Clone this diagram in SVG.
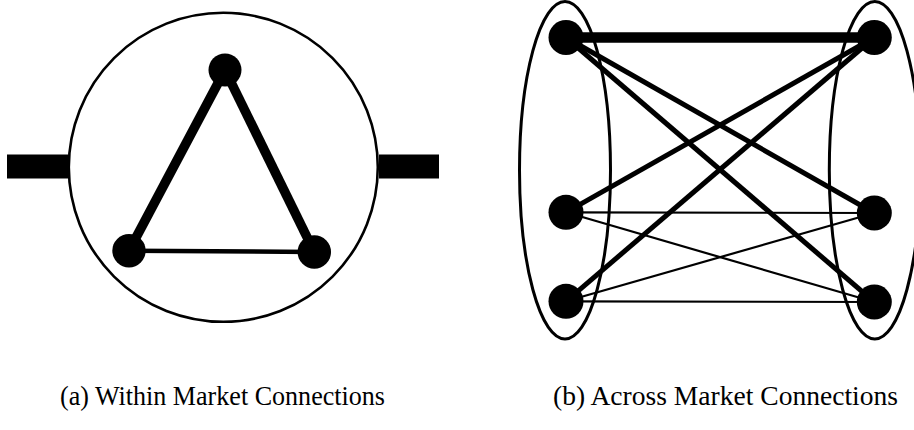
<svg xmlns="http://www.w3.org/2000/svg" width="914" height="430" viewBox="0 0 914 430">
<style>
.bg{fill:#fff}
.outline{fill:none;stroke:#000;stroke-width:2.6}
.node{fill:#000}
.thick{stroke:#000;stroke-width:9.5;stroke-linecap:butt}
.mid{stroke:#000;stroke-width:5;stroke-linecap:butt}
.thin{stroke:#000;stroke-width:2.2;stroke-linecap:butt}
.bar{fill:#000}
.cap{font-family:"Liberation Serif","DejaVu Serif",serif;font-size:26.5px;fill:#000}
</style>
<rect class="bg" x="0" y="0" width="914" height="430"/>
<g id="panel-a">
  <g id="market-a"><circle class="outline" cx="223.3" cy="167.3" r="154.5"/></g>
  <g id="bar-left"><rect class="bar" x="7" y="154.5" width="61" height="24"/></g>
  <g id="bar-right"><rect class="bar" x="379" y="154.5" width="60" height="24"/></g>
  <g id="connectors-a">
    <line class="thick" x1="225" y1="70" x2="129" y2="250.7"/>
    <line class="thick" x1="225" y1="70" x2="314.3" y2="252"/>
    <line class="mid" x1="129" y1="250.7" x2="314.3" y2="252" style="stroke-width:4.5"/>
  </g>
  <g id="a-top"><circle class="node" cx="225" cy="70" r="16.5"/></g>
  <g id="a-left"><circle class="node" cx="129" cy="250.7" r="16.7"/></g>
  <g id="a-right"><circle class="node" cx="314.3" cy="252" r="16.7"/></g>
</g>
<g id="panel-b">
  <g id="market-left"><ellipse class="outline" cx="565" cy="170.2" rx="45.5" ry="168.7" style="stroke-width:3"/></g>
  <g id="market-right"><ellipse class="outline" cx="874.8" cy="170.2" rx="45.5" ry="168.7" style="stroke-width:3"/></g>
  <g id="connectors-b">
    <line class="thick" x1="566" y1="37.5" x2="874.3" y2="37.5" style="stroke-width:10.5"/>
    <line class="mid" x1="566" y1="37.5" x2="874.3" y2="213"/>
    <line class="mid" x1="566" y1="37.5" x2="874.3" y2="302"/>
    <line class="mid" x1="566" y1="212.3" x2="874.3" y2="37.5"/>
    <line class="mid" x1="566" y1="301.3" x2="874.3" y2="37.5"/>
    <line class="thin" x1="566" y1="212.3" x2="874.3" y2="213"/>
    <line class="thin" x1="566" y1="212.3" x2="874.3" y2="302"/>
    <line class="thin" x1="566" y1="301.3" x2="874.3" y2="213"/>
    <line class="thin" x1="566" y1="301.3" x2="874.3" y2="302"/>
  </g>
  <g id="b-l1"><circle class="node" cx="566" cy="37.5" r="17.5"/></g>
  <g id="b-l2"><circle class="node" cx="566" cy="212.3" r="17.5"/></g>
  <g id="b-l3"><circle class="node" cx="566" cy="301.3" r="17.5"/></g>
  <g id="b-r1"><circle class="node" cx="874.3" cy="37.5" r="17.5"/></g>
  <g id="b-r2"><circle class="node" cx="874.3" cy="213" r="17.5"/></g>
  <g id="b-r3"><circle class="node" cx="874.3" cy="302" r="17.5"/></g>
</g>
<text class="cap" x="60" y="405" textLength="325" lengthAdjust="spacingAndGlyphs">(a) Within Market Connections</text>
<text class="cap" x="553" y="405" textLength="345" lengthAdjust="spacingAndGlyphs">(b) Across Market Connections</text>
</svg>
